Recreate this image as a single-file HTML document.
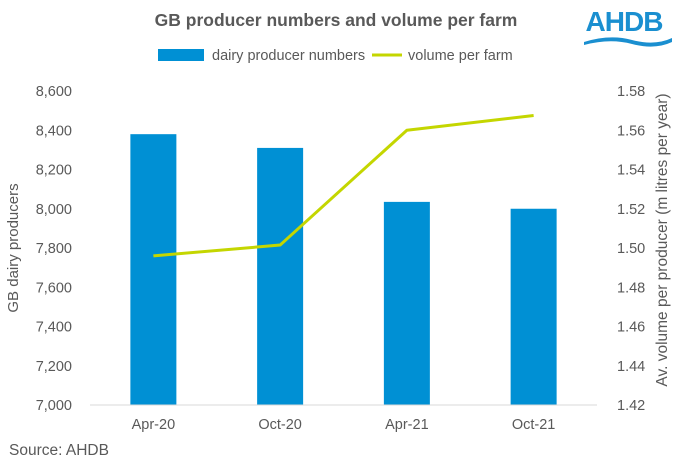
<!DOCTYPE html>
<html><head><meta charset="utf-8"><style>
body{margin:0;background:#fff;font-family:"Liberation Sans",Arial,sans-serif;}
svg{display:block}
</style></head><body>
<svg id="c" width="680" height="471">
<text x="336" y="26" text-anchor="middle" font-size="17.5" font-weight="bold" fill="#595959">GB producer numbers and volume per farm</text>
<g>
<text x="624" y="31" text-anchor="middle" font-size="28" font-weight="bold" fill="#1a8fd0" letter-spacing="-1">AHDB</text>
<path d="M584 42 Q610 34 632 40 Q655 46 672 38 L672 42 Q655 50 632 44 Q610 38 584 45Z" fill="#1a8fd0"/>
</g>
<g>
<rect x="158" y="49" width="46" height="12" fill="#0090d4"/>
<text x="212" y="60" font-size="14.5" fill="#595959">dairy producer numbers</text>
<line x1="372" y1="55" x2="402" y2="55" stroke="#c4d600" stroke-width="3"/>
<text x="408" y="60" font-size="14.5" fill="#595959">volume per farm</text>
</g>
<text transform="translate(18,248) rotate(-90)" text-anchor="middle" font-size="15" fill="#595959">GB dairy producers</text>
<text transform="translate(667,240) rotate(-90)" text-anchor="middle" font-size="15.5" fill="#595959">Av. volume per producer (m litres per year)</text>
<text x="9" y="455" font-size="15.5" fill="#595959">Source: AHDB</text>
<g id="plot"></g>
</svg>
<script>
const categories=["Apr-20","Oct-20","Apr-21","Oct-21"];
const producers=[8380,8310,8035,8000];
const volume=[1.496,1.5015,1.560,1.5675];
const leftTicks=[7000,7200,7400,7600,7800,8000,8200,8400,8600];
const rightTicks=[1.42,1.44,1.46,1.48,1.50,1.52,1.54,1.56,1.58];
const NS="http://www.w3.org/2000/svg";
const g=document.getElementById('plot');
const X0=90,X1=597,Y0=405,Y1=91;
const bw=(X1-X0)/categories.length;
const xc=i=>X0+bw*(i+0.5);
const yL=v=>Y0-(v-7000)/1600*(Y0-Y1);
const yR=v=>Y0-(v-1.42)/0.16*(Y0-Y1);
function mk(t,a){const e=document.createElementNS(NS,t);for(const k in a)e.setAttribute(k,a[k]);g.appendChild(e);return e;}
leftTicks.forEach(v=>{const t=mk('text',{x:X0-18,y:yL(v)+5,'text-anchor':'end','font-size':14.5,fill:'#595959'});t.textContent=v.toLocaleString('en-US');

});
rightTicks.forEach(v=>{const t=mk('text',{x:X1+20,y:yR(v)+5,'font-size':14.5,fill:'#595959'});t.textContent=v.toFixed(2);

});
producers.forEach((v,i)=>{const r=mk('rect',{x:xc(i)-23,y:yL(v),width:46,height:Y0-yL(v),fill:'#0090d4'});

});
const ax=mk('line',{x1:X0,y1:Y0,x2:X1,y2:Y0,stroke:'#d9d9d9','stroke-width':1});


categories.forEach((c,i)=>{const t=mk('text',{x:xc(i),y:Y0+24,'text-anchor':'middle','font-size':14.5,fill:'#595959'});t.textContent=c;

});
const p=mk('polyline',{points:volume.map((v,i)=>xc(i)+','+yR(v)).join(' '),fill:'none',stroke:'#c4d600','stroke-width':3,'stroke-linejoin':'round'});


</script>
</body></html>
